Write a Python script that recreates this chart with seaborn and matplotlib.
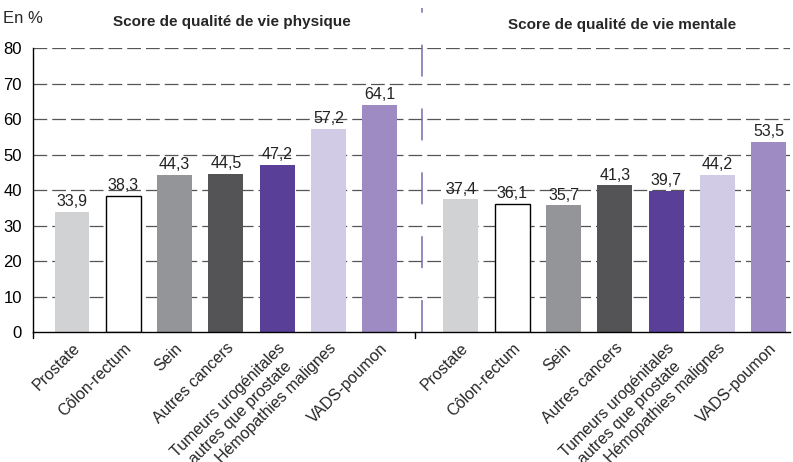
import seaborn as sns
import matplotlib.pyplot as plt
import pandas as pd

categories = ["Prostate", "Côlon-rectum", "Sein", "Autres cancers",
              "Tumeurs urogénitales\nautres que prostate", "Hémopathies malignes",
              "VADS-poumon"]
physique = [33.9, 38.3, 44.3, 44.5, 47.2, 57.2, 64.1]
mentale = [37.4, 36.1, 35.7, 41.3, 39.7, 44.2, 53.5]
colors = ["#d1d2d4", "#ffffff", "#939598", "#545456", "#5a3f99", "#d1cbe6", "#9e8bc3"]

# positions: second group shifted to leave a gap
offset = 7.58
pos = list(range(7)) + [i + offset for i in range(7)]
df = pd.DataFrame({
    "pos": pos,
    "valeur": physique + mentale,
    "cat": categories + categories,
})

sns.set_style("white")
plt.rcParams['font.family'] = ['Liberation Sans', 'DejaVu Sans']

fig = plt.figure(figsize=(7.93, 4.62), dpi=100)
ax = fig.add_axes([0.0416, 0.281, 0.955, 0.615])

ax.set_axisbelow(True)
for y in range(10, 90, 10):
    ax.axhline(y, color="#555555", lw=0.9, ls=(0, (11, 4)), zorder=0)

sns.barplot(data=df, x="pos", y="valeur", hue="cat", palette=dict(zip(categories, colors)),
            native_scale=True, dodge=False, width=0.68, legend=False, ax=ax,
            edgecolor="none", errorbar=None, saturation=1)

# outline for white bars
for patch in ax.patches:
    if patch.get_facecolor()[:3] == (1.0, 1.0, 1.0):
        patch.set_edgecolor("black")
        patch.set_linewidth(1.0)

for cont in ax.containers:
    labels = [f"{v:.1f}".replace(".", ",") for v in cont.datavalues]
    ax.bar_label(cont, labels=labels, padding=2, fontsize=11.5, color="#222222")

ax.set_xlim(-0.76, 14.0)
ax.set_ylim(0, 80)
ax.set_yticks(range(0, 90, 10))
ax.tick_params(axis="y", labelsize=12, length=6, width=1, direction="out", pad=2, colors="black")
ax.set_xticks(pos)
ax.set_xticklabels(categories + categories, rotation=45, ha="right", va="top",
                   rotation_mode="anchor", fontsize=11.5, multialignment="center")
ax.tick_params(axis="x", length=0, pad=6)
ax.plot([6.68, 6.68], [0, -1.5], color="black", lw=1, clip_on=False)
ax.plot([-0.76, -0.76], [0, -1.5], color="black", lw=1, clip_on=False)

for s in ["top", "right"]:
    ax.spines[s].set_visible(False)
for s in ["left", "bottom"]:
    ax.spines[s].set_color("black")
    ax.spines[s].set_linewidth(1)

ax.plot([6.82, 6.82], [0, 91.3], color="#7b68b0", lw=1.1, ls=(0, (20.9, 20.9)), clip_on=False)

ax.set_xlabel("")
ax.set_ylabel("")
fig.text(0.004, 0.96, "En %", fontsize=12, ha="left", va="center")
fig.text(0.292, 0.953, "Score de qualité de vie physique", fontsize=11, fontweight="bold",
         ha="center", va="center")
fig.text(0.785, 0.945, "Score de qualité de vie mentale", fontsize=11, fontweight="bold",
         ha="center", va="center")

plt.savefig("out.png", dpi=100)
